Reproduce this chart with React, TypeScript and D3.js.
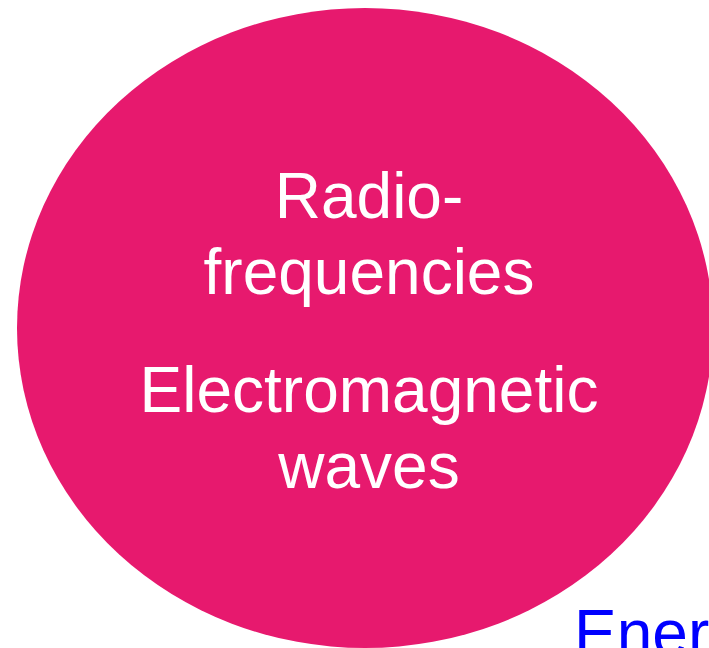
import React from "react";
import * as d3 from "d3";

// text blocks inside the ellipse
const topLines = ["Radio-", "frequencies"];
const bottomLines = ["Electromagnetic", "waves"];
const cornerLabel = "Ener";

const W = 709;
const H = 648;

const App: React.FC = () => {
  const cx = 365;
  const cy = 328;
  const rx = 348;
  const ry = 320;

  const lineY = d3.scaleLinear().domain([0, 1]).range([0, 76]);

  return (
    <svg
      width={W}
      height={H}
      style={{ position: "absolute", left: 0, top: 0, display: "block" }}
    >
      <rect width={W} height={H} fill="#fff" />
      <ellipse cx={cx} cy={cy} rx={rx} ry={ry} fill="#E7196E" />
      {topLines.map((t, i) => (
        <text
          key={t}
          x={369}
          y={218 + lineY(i)}
          textAnchor="middle"
          fill="#fff"
          fontFamily="Liberation Sans, Arial, sans-serif"
          fontSize={64}
        >
          {t}
        </text>
      ))}
      {bottomLines.map((t, i) => (
        <text
          key={t}
          x={369}
          y={412 + lineY(i)}
          textAnchor="middle"
          fill="#fff"
          fontFamily="Liberation Sans, Arial, sans-serif"
          fontSize={64}
        >
          {t}
        </text>
      ))}
      <text
        x={574}
        y={655}
        fill="#0000FF"
        fontFamily="Liberation Sans, Arial, sans-serif"
        fontSize={64}
      >
        {cornerLabel}
      </text>
    </svg>
  );
};

export default App;
